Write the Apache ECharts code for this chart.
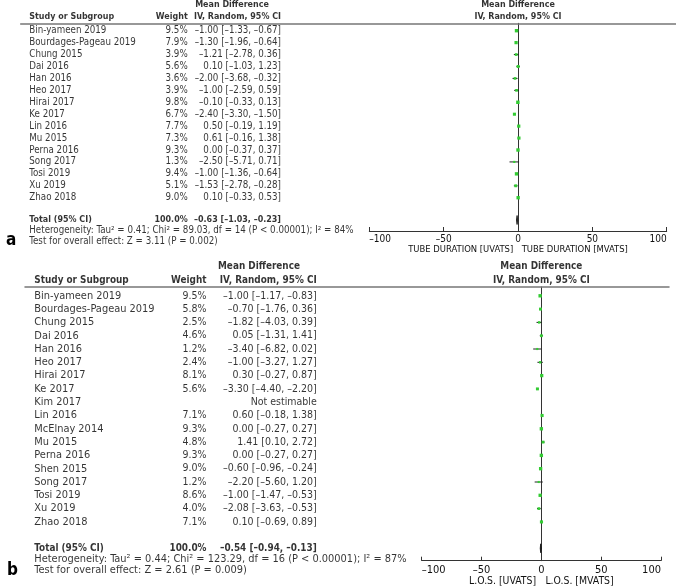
<!DOCTYPE html>
<html><head><meta charset="utf-8">
<script src="https://cdn.jsdelivr.net/npm/echarts@6/dist/echarts.min.js"></script>
<style>html,body{margin:0;padding:0;background:#fff}#c{width:676px;height:588px}</style>
</head><body><div id="c"></div>
<script>
// ---------- Panel a data ----------
const studiesA = ["Bin-yameen 2019","Bourdages-Pageau 2019","Chung 2015","Dai 2016","Han 2016","Heo 2017","Hirai 2017","Ke 2017","Lin 2016","Mu 2015","Perna 2016","Song 2017","Tosi 2019","Xu 2019","Zhao 2018"];
const weightsA = [9.5,7.9,3.9,5.6,3.6,3.9,9.8,6.7,7.7,7.3,9.3,1.3,9.4,5.1,9.0];
const meanA = [-1.00,-1.30,-1.21,0.10,-2.00,-1.00,-0.10,-2.40,0.50,0.61,0.00,-2.50,-1.00,-1.53,0.10];
const lowA  = [-1.33,-1.96,-2.78,-1.03,-3.68,-2.59,-0.33,-3.30,-0.19,-0.16,-0.37,-5.71,-1.36,-2.78,-0.33];
const highA = [-0.67,-0.64,0.36,1.23,-0.32,0.59,0.13,-1.50,1.19,1.38,0.37,0.71,-0.64,-0.28,0.53];
const totalA = [-0.63,-1.03,-0.23];
const hetA = "Heterogeneity: Tau² = 0.41; Chi² = 89.03, df = 14 (P < 0.00001); I² = 84%";
const testA = "Test for overall effect: Z = 3.11 (P = 0.002)";
const titlesA = ["TUBE DURATION [UVATS]","TUBE DURATION [MVATS]"];

// ---------- Panel b data ----------
const studiesB = ["Bin-yameen 2019","Bourdages-Pageau 2019","Chung 2015","Dai 2016","Han 2016","Heo 2017","Hirai 2017","Ke 2017","Kim 2017","Lin 2016","McElnay 2014","Mu 2015","Perna 2016","Shen 2015","Song 2017","Tosi 2019","Xu 2019","Zhao 2018"];
const weightsB = [9.5,5.8,2.5,4.6,1.2,2.4,8.1,5.6,null,7.1,9.3,4.8,9.3,9.0,1.2,8.6,4.0,7.1];
const meanB = [-1.00,-0.70,-1.82,0.05,-3.40,-1.00,0.30,-3.30,null,0.60,0.00,1.41,0.00,-0.60,-2.20,-1.00,-2.08,0.10];
const lowB  = [-1.17,-1.76,-4.03,-1.31,-6.82,-3.27,-0.27,-4.40,null,-0.18,-0.27,0.10,-0.27,-0.96,-5.60,-1.47,-3.63,-0.69];
const highB = [-0.83,0.36,0.39,1.41,0.02,1.27,0.87,-2.20,null,1.38,0.27,2.72,0.27,-0.24,1.20,-0.53,-0.53,0.89];
const totalB = [-0.54,-0.94,-0.13];
const hetB = "Heterogeneity: Tau² = 0.44; Chi² = 123.29, df = 16 (P < 0.00001); I² = 87%";
const testB = "Test for overall effect: Z = 2.61 (P = 0.009)";
const titlesB = ["L.O.S. [UVATS]","L.O.S. [MVATS]"];

const tickValues = [-100,-50,0,50,100];
const headers = ["Study or Subgroup","Weight","Mean Difference","IV, Random, 95% CI","Total (95% CI)","100.0%"];

const FONT = "'DejaVu Sans Condensed','DejaVu Sans',sans-serif";
const GREEN = '#33cc33';
const DASH = '\u2013';

// ---------- layout ----------
const LA = {row0:30.7,rowH:11.93,fs:9.7,nfs2:9.7,bfs:8.9,tfs:10,nfs:9.4,hLineY:23.3,axisY:231,lineX0:20.7,lineX1:676,
  studyX:29.3,weightR:187.7,ciR:281,mdC:232,plotL:369.3,plotR:666.7,
  hdr1Y:5,hdr2Y:17,totalY:220,hetY:230,testY:241,tickMargin:3,nameGap:14,letter:'a',letterX:6,letterY:241};
const LB = {row0:295.8,rowH:13.3,fs:10.95,nfs2:10.5,bfs:9.9,tfs:11,nfs:10.4,hLineY:287,axisY:560.7,lineX0:25,lineX1:669,
  studyX:34.3,weightR:206.5,ciR:316.7,mdC:259,plotL:421.7,plotR:661,
  hdr1Y:266.8,hdr2Y:280,totalY:548.3,hetY:559.3,testY:570.3,tickMargin:3.5,nameGap:16,letter:'b',letterX:7,letterY:571};

const fmt = v => v.toFixed(2).replace('-', DASH);
const ciText = (m,l,h) => m===null ? 'Not estimable' : `${fmt(m)} [${fmt(l)}, ${fmt(h)}]`;

const grids=[], xAxes=[], yAxes=[], series=[], graphics=[];

function buildPanel(L, studies, weights, mean, low, high, total, het, test, titles) {
  const rowOf = y => (y - L.row0) / L.rowH;
  const yMin = rowOf(L.hLineY), yMax = rowOf(L.axisY);
  const gi = grids.length;
  // table grid (x in pixel units), its top axis draws the header rule
  grids.push({left:L.lineX0, width:L.lineX1-L.lineX0, top:L.hLineY, height:L.axisY-L.hLineY});
  xAxes.push({gridIndex:gi, type:'value', min:L.lineX0, max:L.lineX1, position:'top',
    axisLine:{show:true,onZero:false,lineStyle:{color:'#777',width:1.5}}, axisTick:{show:false}, axisLabel:{show:false}, splitLine:{show:false}});
  yAxes.push({gridIndex:gi, type:'value', inverse:true, min:yMin, max:yMax, show:false});
  // plot grid
  grids.push({left:L.plotL, width:L.plotR-L.plotL, top:L.hLineY, height:L.axisY-L.hLineY});
  xAxes.push({gridIndex:gi+1, type:'value', min:tickValues[0], max:tickValues[tickValues.length-1], interval:50,
    axisLine:{show:true,onZero:false,lineStyle:{color:'#333',width:1}},
    axisTick:{show:true,inside:true,length:4,lineStyle:{color:'#333'}},
    axisLabel:{show:true,fontFamily:FONT,fontSize:L.tfs,color:'#111',margin:L.tickMargin,
      alignMinLabel:'left',alignMaxLabel:'right',formatter:v=>String(v).replace('-',DASH)},
    splitLine:{show:false},
    name: titles[0] + '\u2003' + titles[1], nameLocation:'middle', nameGap:L.nameGap,
    nameTextStyle:{fontFamily:FONT,fontSize:L.nfs,color:'#111'}});
  yAxes.push({gridIndex:gi+1, type:'value', inverse:true, min:yMin, max:yMax,
    axisLine:{show:true,onZero:true,lineStyle:{color:'#333',width:1}}, axisTick:{show:false}, axisLabel:{show:false}, splitLine:{show:false}});

  const txt = (grid, items, align, bold, fs) => ({
    type:'scatter', xAxisIndex:grid, yAxisIndex:grid, symbolSize:0.1, silent:true, clip:false,
    itemStyle:{color:'transparent'}, z:5,
    data: items.map(d => ({name:d[2], value:[d[0], d[1]], label: d[3] ? {align:d[3]} : undefined})),
    label:{show:true, position:'inside', formatter:'{b}', align:align, verticalAlign:'middle',
      fontFamily:FONT, fontSize:bold?L.bfs:(fs||L.fs), fontWeight:bold?'bold':'normal', color:'#000'}
  });

  const rows = studies.map((s,i)=>i);
  series.push(txt(gi, rows.map(i=>[L.studyX, i, studies[i]]), 'left', false));
  series.push(txt(gi, rows.filter(i=>weights[i]!==null).map(i=>[L.weightR, i, weights[i].toFixed(1)+'%']), 'right', false, L.nfs2));
  series.push(txt(gi, rows.map(i=>[L.ciR, i, ciText(mean[i],low[i],high[i])]), 'right', false, L.nfs2));
  series.push(txt(gi, [
    [L.studyX, rowOf(L.hdr2Y), headers[0], 'left'],
    [L.weightR, rowOf(L.hdr2Y), headers[1]],
    [L.ciR, rowOf(L.hdr2Y), headers[3]],
    [L.studyX, rowOf(L.totalY), headers[4], 'left'],
    [L.weightR, rowOf(L.totalY), headers[5]],
    [L.ciR, rowOf(L.totalY), ciText(total[0],total[1],total[2])]
  ], 'right', true));
  series.push(txt(gi, [[L.mdC, rowOf(L.hdr1Y), headers[2]]], 'center', true));
  series.push(txt(gi, [[L.studyX, rowOf(L.hetY), het],[L.studyX, rowOf(L.testY), test]], 'left', false));
  series.push(txt(gi+1, [[0, rowOf(L.hdr1Y), headers[2]],[0, rowOf(L.hdr2Y), headers[3]]], 'center', true));

  // CI lines + weighted squares
  series.push({type:'custom', xAxisIndex:gi+1, yAxisIndex:gi+1, silent:true, z:3,
    data: rows.filter(i=>mean[i]!==null).map(i=>[i, mean[i], low[i], high[i], weights[i]]),
    renderItem:(p, api)=>{
      const r=api.value(0), m=api.value(1), lo=api.value(2), hi=api.value(3), w=api.value(4);
      const a=api.coord([lo,r]), b=api.coord([hi,r]), c=api.coord([m,r]);
      const s = 1.4 + 0.65*Math.sqrt(w);
      return {type:'group', children:[
        {type:'line', shape:{x1:a[0],y1:a[1],x2:b[0],y2:b[1]}, style:{stroke:'#222',lineWidth:1}},
        {type:'rect', shape:{x:c[0]-s/2,y:c[1]-s/2,width:s,height:s}, style:{fill:GREEN}}
      ]};
    }});
  // total diamond
  series.push({type:'custom', xAxisIndex:gi+1, yAxisIndex:gi+1, silent:true, z:3,
    data:[[rowOf(L.totalY), total[0], total[1], total[2]]],
    renderItem:(p, api)=>{
      const r=api.value(0), m=api.coord([api.value(1),r]), lo=api.coord([api.value(2),r]), hi=api.coord([api.value(3),r]);
      const h=4.5;
      return {type:'polygon', shape:{points:[[lo[0],m[1]],[m[0],m[1]-h],[hi[0],m[1]],[m[0],m[1]+h]]},
        style:{fill:'#111',stroke:'#111',lineWidth:0.8}};
    }});
  graphics.push({type:'text', left:L.letterX, top:L.letterY-9, style:{text:L.letter, font:`bold 17px ${FONT}`, fill:'#000'}});
}

buildPanel(LA, studiesA, weightsA, meanA, lowA, highA, totalA, hetA, testA, titlesA);
buildPanel(LB, studiesB, weightsB, meanB, lowB, highB, totalB, hetB, testB, titlesB);

const chart = echarts.init(document.getElementById('c'), null, {renderer:'canvas'});
chart.setOption({animation:false, backgroundColor:'#fff', grid:grids, xAxis:xAxes, yAxis:yAxes, series:series, graphic:graphics});
</script></body></html>
